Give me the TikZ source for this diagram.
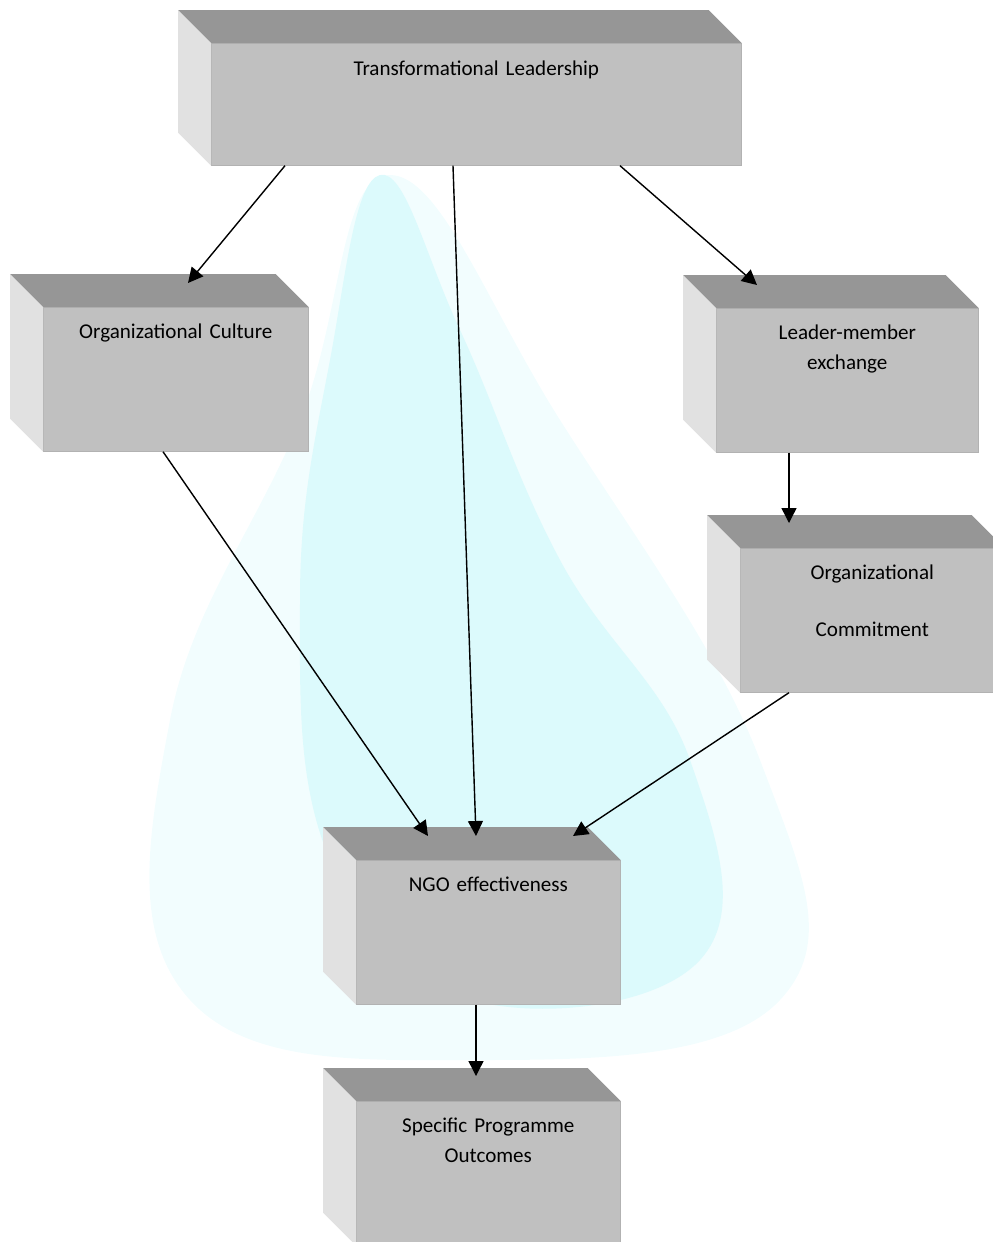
\documentclass[tikz,border=0pt]{standalone}
\usepackage{fontspec}
\setmainfont{Carlito}
\usetikzlibrary{arrows.meta,positioning}

\definecolor{frontgray}{RGB}{192,192,192}
\definecolor{topgray}{RGB}{150,150,150}
\definecolor{sidegray}{RGB}{225,225,225}
\definecolor{dropcyan}{RGB}{196,246,250}

\begin{document}
\begin{tikzpicture}[
    x=0.02cm, y=-0.02cm,
    box/.style={rectangle, fill=frontgray, draw=gray!60, line width=0.4pt, anchor=north west,
        inner sep=0pt, minimum width=5.28cm, text width=5.28cm, align=center,
        text height=0.62cm, text depth=2.26cm, font=\fontsize{12}{17}\selectfont},
    arrow/.style={-{Triangle[length=0.3cm, width=0.3cm]}, line width=0.8pt}
]
    \useasboundingbox (0,0) rectangle (993,1242);
    \clip (0,0) rectangle (993,1242);

    % Background watermark
    \fill[dropcyan!22] plot[smooth cycle, tension=0.7] coordinates
        {(390,175) (300,420) (170,720) (190,1000) (480,1060) (780,1000) (760,760) (560,420)};
    \fill[dropcyan!60] plot[smooth cycle, tension=0.7] coordinates
        {(380,175) (330,360) (300,600) (330,860) (470,1000) (700,960) (690,760) (560,560) (460,330)};

    % Boxes (front faces)
    \node[box, minimum width=10.6cm, text width=10.6cm, text height=0.64cm, text depth=1.8cm] (lead) at (211,43) {Transformational Leadership};
    \node[box, minimum width=5.3cm, text width=5.3cm] (cult) at (43,307) {Organizational Culture};
    \node[box, minimum width=5.24cm, text width=5.24cm] (lmx) at (716,308) {Leader-member\\exchange};
    \node[box] (comm) at (740,548) {Organizational\\[0.54cm]Commitment};
    \node[box] (ngo) at (356,860) {NGO effectiveness};
    \node[box] (spo) at (356,1101) {Specific Programme\\Outcomes};

    % Bevels: top and left faces
    \foreach \n in {lead,cult,lmx,comm,ngo,spo} {
        \fill[topgray] (\n.north west) -- ++(-33,-33) -- ([shift={(-33,-33)}]\n.north east) -- (\n.north east) -- cycle;
        \fill[sidegray] (\n.north west) -- ++(-33,-33) -- ([shift={(-33,-33)}]\n.south west) -- (\n.south west) -- cycle;
    }

    % Arrows
    \draw[arrow] ([shift={(74,0)}]lead.south west) -- ([shift={(145,-24)}]cult.north west);
    \draw[arrow] ([shift={(242,0)}]lead.south west) -- ([shift={(120,-24)}]ngo.north west);
    \draw[arrow] ([shift={(409,0)}]lead.south west) -- ([shift={(41,-23)}]lmx.north west);
    \draw[arrow] ([shift={(120,0)}]cult.south west) -- ([shift={(72,-24)}]ngo.north west);
    \draw[arrow] ([shift={(73,0)}]lmx.south west) -- ([shift={(49,-25)}]comm.north west);
    \draw[arrow] ([shift={(49,0)}]comm.south west) -- ([shift={(217,-24)}]ngo.north west);
    \draw[arrow] ([shift={(120,0)}]ngo.south west) -- ([shift={(120,-25)}]spo.north west);
\end{tikzpicture}
\end{document}
